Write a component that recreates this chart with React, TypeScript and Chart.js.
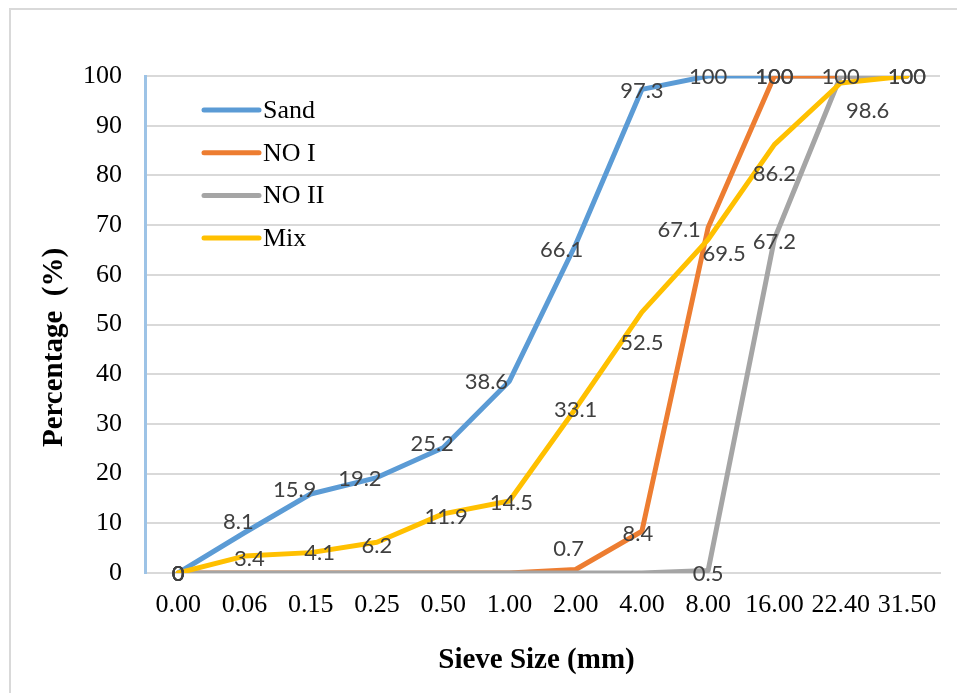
import React, { useEffect, useRef } from "react";
import { Chart, registerables } from "chart.js";

Chart.register(...registerables);

// ---- data ----
const sieveSizes = ["0.00", "0.06", "0.15", "0.25", "0.50", "1.00", "2.00", "4.00", "8.00", "16.00", "22.40", "31.50"];
const sand = [0, 8.1, 15.9, 19.2, 25.2, 38.6, 66.1, 97.3, 100, 100, 100, 100];
const noI = [0, 0, 0, 0, 0, 0, 0.7, 8.4, 69.5, 100, 100, 100];
const noII = [0, 0, 0, 0, 0, 0, 0, 0, 0.5, 67.2, 100, 100];
const mix = [0, 3.4, 4.1, 6.2, 11.9, 14.5, 33.1, 52.5, 67.1, 86.2, 98.6, 100];
const seriesNames = ["Sand", "NO I", "NO II", "Mix"];
const yMin = 0;
const yMax = 100;
const yStep = 10;
const xTitle = "Sieve Size (mm)";
const yTitle = "Percentage  (%)";

// ---- styles ----
const colors = ["#5B9BD5", "#ED7D31", "#A5A5A5", "#FFC000"];
const SERIF = "'Liberation Serif', 'Times New Roman', serif";
const LABEL_FONT = "22px Lato, 'Open Sans', sans-serif";

// label placement tweaks (pixel nudges of the text relative to its point)
const labelOffsets: Record<string, Record<number, [number, number]>> = {
  Sand: { 1: [-6, -12], 2: [-16, -5], 3: [-17, 0], 4: [-11, -5], 5: [-23, 0], 6: [-14, 4] },
  "NO I": { 6: [-7, -22], 7: [-4, 2], 8: [16, 25] },
  "NO II": { 8: [0, 2], 9: [0, 2] },
  Mix: { 1: [5, 2], 2: [9, -1], 3: [0, 3], 4: [3, 2], 5: [2, 1], 7: [0, 30], 8: [-29, -11], 9: [0, 28], 10: [27, 27] },
};
// labels that are not shown
const labelHidden: Record<string, number[]> = {
  Sand: [10, 11],
  "NO I": [10, 11],
  "NO II": [],
  Mix: [],
};

const dataLabelsPlugin = {
  id: "pointValueLabels",
  afterDatasetsDraw(chart: any) {
    const { ctx } = chart;
    ctx.save();
    ctx.font = LABEL_FONT;
    ctx.fillStyle = "#404040";
    ctx.textAlign = "center";
    ctx.textBaseline = "middle";
    chart.data.datasets.forEach((ds: any, di: number) => {
      const meta = chart.getDatasetMeta(di);
      const name = ds.label;
      const offs = labelOffsets[name] || {};
      const hidden = labelHidden[name] || [];
      meta.data.forEach((pt: any, i: number) => {
        const v = ds.data[i];
        if (v === 0 && i !== 0) return;
        if (hidden.includes(i)) return;
        const [dx, dy] = offs[i] || [0, 0];
        ctx.fillText(String(v), pt.x + dx, pt.y + dy + 1);
      });
    });
    ctx.restore();
  },
};

const legendPlugin = {
  id: "insideLegend",
  afterDraw(chart: any) {
    const { ctx, chartArea } = chart;
    ctx.save();
    ctx.font = `26px ${SERIF}`;
    ctx.textAlign = "left";
    ctx.textBaseline = "middle";
    chart.data.datasets.forEach((ds: any, i: number) => {
      const y = chartArea.top + 34 + i * 42.7;
      const x0 = chartArea.left + 59;
      ctx.strokeStyle = ds.borderColor;
      ctx.lineWidth = 5;
      ctx.lineCap = "round";
      ctx.beginPath();
      ctx.moveTo(x0, y);
      ctx.lineTo(x0 + 55, y);
      ctx.stroke();
      ctx.fillStyle = "#000";
      ctx.fillText(ds.label, x0 + 59, y + 1);
    });
    ctx.restore();
  },
};

const axisTitlePlugin = {
  id: "axisTitles",
  afterDraw(chart: any) {
    const { ctx, chartArea } = chart;
    ctx.save();
    ctx.font = `bold 29px ${SERIF}`;
    ctx.fillStyle = "#000";
    ctx.textAlign = "center";
    ctx.textBaseline = "middle";
    ctx.fillText(xTitle, (chartArea.left + chartArea.right) / 2 - 6, chartArea.bottom + 88);
    ctx.translate(chartArea.left - 90, (chartArea.top + chartArea.bottom) / 2 + 23);
    ctx.rotate(-Math.PI / 2);
    ctx.fillText(yTitle, 0, 0);
    ctx.restore();
  },
};

export default function App() {
  const canvasRef = useRef<HTMLCanvasElement | null>(null);

  useEffect(() => {
    if (!canvasRef.current) return;
    const seriesData = [sand, noI, noII, mix];
    const chart = new Chart(canvasRef.current, {
      type: "line",
      data: {
        labels: sieveSizes,
        datasets: seriesNames.map((name, i) => ({
          label: name,
          data: seriesData[i],
          borderColor: colors[i],
          backgroundColor: colors[i],
          borderWidth: 5,
          pointRadius: 0,
          pointHoverRadius: 0,
          tension: 0,
          fill: false,
          borderCapStyle: "round",
          borderJoinStyle: "round",
          order: seriesNames.length - 1 - i,
        })),
      },
      options: {
        responsive: false,
        animation: false,
        layout: { padding: { left: 0, top: 76, right: 17, bottom: 0 } },
        plugins: {
          legend: { display: false },
          tooltip: { enabled: false },
          title: { display: false },
        },
        scales: {
          x: {
            type: "category",
            offset: true,
            grid: { display: false, drawTicks: false },
            border: { display: true, color: "#D9D9D9", width: 2 },
            ticks: {
              color: "#000",
              font: { family: SERIF, size: 26 },
              padding: 17,
              maxRotation: 0,
              autoSkip: false,
            },
            afterFit: (scale: any) => {
              scale.height = 120;
            },
          },
          y: {
            min: yMin,
            max: yMax,
            grid: { color: "#D9D9D9", lineWidth: 2, drawTicks: false },
            border: { display: true, color: "#9DC3E6", width: 3 },
            ticks: {
              stepSize: yStep,
              color: "#000",
              font: { family: SERIF, size: 26 },
              padding: 23,
            },
            afterFit: (scale: any) => {
              scale.width = 145;
            },
          },
        },
      },
      plugins: [dataLabelsPlugin, legendPlugin, axisTitlePlugin],
    } as any);
    return () => chart.destroy();
  }, []);

  return (
    <div style={{ position: "absolute", left: 0, top: 0, width: 957, height: 693, overflow: "hidden", background: "#fff" }}>
      <div
        style={{
          position: "absolute",
          left: 9,
          top: 8,
          width: 1100,
          height: 900,
          border: "2px solid #D9D9D9",
          boxSizing: "border-box",
        }}
      />
      <canvas ref={canvasRef} width={957} height={693} style={{ position: "absolute", left: 0, top: 0, width: 957, height: 693 }} />
    </div>
  );
}
